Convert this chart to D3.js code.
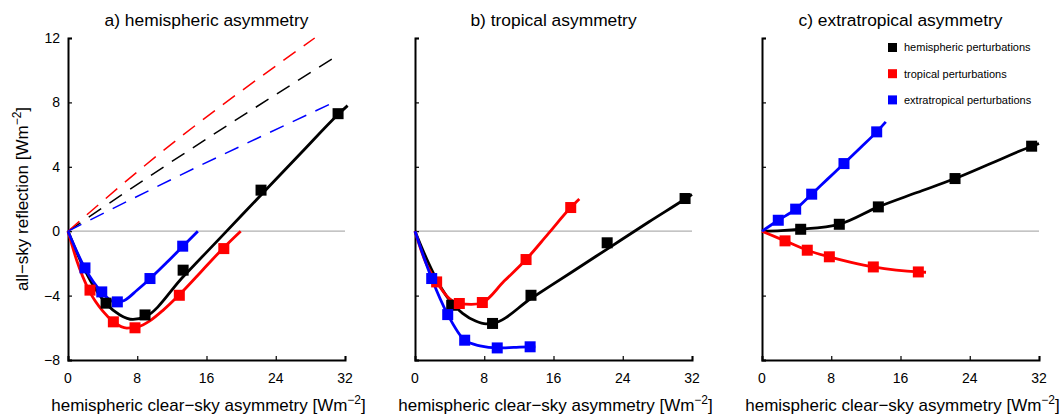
<!DOCTYPE HTML>
<html>
  <head>
    <style>
      body { margin: 0px; background: #fff; }
      text { font-family: "Liberation Sans", Arial, sans-serif; }
    </style>
  </head>
  <body>
    <script src="https://cdn.jsdelivr.net/npm/d3@7"></script>
    <script>

    // *** DATA ***

    var xTicks = [0, 8, 16, 24, 32];
    var yTicks = [-8, -4, 0, 4, 8, 12];
    var titles = ["a) hemispheric asymmetry", "b) tropical asymmetry", "c) extratropical asymmetry"];
    var seriesNames = ["hemispheric perturbations", "tropical perturbations", "extratropical perturbations"];
    var seriesColors = ["#000000", "#ff0000", "#0000ff"];

    // panel a - markers and fitted curves
    var aBlackPts = [[4.4, -4.47], [8.9, -5.2], [13.3, -2.42], [22.3, 2.55], [31.2, 7.3]];
    var aRedPts   = [[2.54, -3.66], [5.24, -5.63], [7.74, -6.0], [12.86, -3.98], [18.0, -1.08]];
    var aBluePts  = [[1.96, -2.28], [3.9, -3.77], [5.7, -4.39], [9.47, -2.94], [13.25, -0.93]];
    var aBlackFit = [[0, 0], [1.5, -1.9], [3, -3.45], [4.5, -4.55], [6, -5.2], [7.5, -5.48], [8.9, -5.32],
                     [13.3, -2.83], [18, -0.18], [22.3, 2.25], [27, 4.9], [31.2, 7.25], [32.3, 7.8]];
    var aRedFit   = [[0, 0], [1, -1.8], [2.5, -3.75], [4, -4.95], [5.3, -5.65], [6.8, -6.02], [8, -5.95],
                     [9.5, -5.55], [11, -4.9], [12.86, -3.95], [15.4, -2.5], [17.9, -1.07], [19.95, 0]];
    var aBlueFit  = [[0, 0], [1.96, -2.3], [3.9, -3.8], [5.5, -4.42], [6.5, -4.3], [8, -3.65], [9.47, -2.95],
                     [11.4, -1.95], [13.25, -0.95], [15.0, 0]];
    // panel a - dashed reference lines
    var aBlackDash = [[0, 0], [9.3, 3.37], [30.5, 10.7]];
    var aRedDash   = [[0, 0], [8.7, 4.0], [28.5, 12.0]];
    var aBlueDash  = [[0, 0], [10.2, 2.75], [31.1, 8.1]];

    // panel b
    var bBlackPts = [[4.24, -4.6], [8.96, -5.73], [13.4, -3.98], [22.2, -0.72], [31.2, 2.03]];
    var bRedPts   = [[2.5, -3.15], [5.12, -4.49], [7.78, -4.43], [12.83, -1.76], [17.99, 1.47]];
    var bBluePts  = [[1.93, -2.94], [3.78, -5.18], [5.74, -6.77], [9.5, -7.25], [13.3, -7.18]];
    var bBlackFit = [[0, 0], [1.5, -1.9], [3, -3.5], [4.3, -4.5], [5.5, -5.1], [7, -5.58], [8.2, -5.75], [9, -5.72],
                     [13.4, -4.18], [18, -2.58], [22.2, -1.11], [27, 0.57], [31.2, 2.0], [32, 2.28]];
    var bRedFit   = [[0, 0], [1.2, -1.9], [2.5, -3.15], [4, -4.2], [5.1, -4.5], [6.5, -4.55], [7.78, -4.43],
                     [10.3, -3.1], [12.83, -1.76], [15.4, -0.15], [17.99, 1.47], [18.98, 2.0]];
    var bBlueFit  = [[0, 0], [1.93, -2.94], [3.78, -5.18], [5.74, -6.77], [7.5, -7.12], [9.5, -7.25],
                     [11.4, -7.22], [13.3, -7.18], [13.9, -7.18]];

    // panel c
    var cBlackPts = [[4.47, 0.12], [8.93, 0.43], [13.44, 1.51], [22.3, 3.27], [31.15, 5.28]];
    var cRedPts   = [[2.66, -0.6], [5.23, -1.18], [7.78, -1.59], [12.86, -2.22], [18.06, -2.53]];
    var cBluePts  = [[1.88, 0.68], [3.89, 1.37], [5.74, 2.3], [9.47, 4.2], [13.25, 6.17]];
    var cBlackFit = [[0, 0], [2.2, 0.04], [4.47, 0.12], [8.93, 0.43], [13.44, 1.51], [17.9, 2.4], [22.3, 3.27],
                     [26.7, 4.27], [31.15, 5.28], [32, 5.45]];
    var cRedFit   = [[0, 0], [2.66, -0.6], [5.23, -1.18], [7.78, -1.59], [10.3, -1.93], [12.86, -2.22],
                     [15.5, -2.42], [18.06, -2.53], [18.95, -2.55]];
    var cBlueFit  = [[0, 0], [1.88, 0.68], [3.89, 1.37], [5.74, 2.3], [7.6, 3.25], [9.47, 4.2], [11.4, 5.2],
                     [13.25, 6.17], [14.3, 6.79]];

    var panels = [
      {left: 68,  pts: [aBlackPts, aRedPts, aBluePts], fit: [aBlackFit, aRedFit, aBlueFit], dash: [aBlackDash, aRedDash, aBlueDash], yLabels: true},
      {left: 415, pts: [bBlackPts, bRedPts, bBluePts], fit: [bBlackFit, bRedFit, bBlueFit], dash: [], yLabels: false},
      {left: 762, pts: [cBlackPts, cRedPts, cBluePts], fit: [cBlackFit, cRedFit, cBlueFit], dash: [], yLabels: false, legend: true}
    ];

    // *** DRAW ***

    var W = 1063, H = 415;
    var pw = 277, plotTop = 38, plotBottom = 360;

    var svg = d3.select("body").append("svg")
      .attr("width", W)
      .attr("height", H);

    var y = d3.scaleLinear().domain([-8, 12]).range([plotBottom, plotTop]);

    panels.forEach(function(p, i){
      var x = d3.scaleLinear().domain([0, 32]).range([p.left, p.left + pw]);
      var g = svg.append("g");

      // zero line
      g.append("line")
        .attr("x1", x(0)).attr("x2", x(32))
        .attr("y1", y(0)).attr("y2", y(0))
        .style("stroke", "#b0b0b0").style("stroke-width", 1.2);

      // axes (ticks pointing inward)
      var xAxis = g.append("g")
        .attr("transform", "translate(0," + plotBottom + ")")
        .call(d3.axisTop(x).tickValues(xTicks).tickSize(4).tickSizeOuter(4).tickFormat(""));
      xAxis.select(".domain").style("stroke-width", 2);
      xAxis.selectAll(".tick line").style("stroke-width", 1.2);

      var yAxis = g.append("g")
        .attr("transform", "translate(" + p.left + ",0)")
        .call(d3.axisRight(y).tickValues(yTicks).tickSize(4).tickSizeOuter(4).tickFormat(""));
      yAxis.select(".domain").style("stroke-width", 2);
      yAxis.selectAll(".tick line").style("stroke-width", 1.2);

      // tick labels
      g.selectAll(".xl").data(xTicks).enter().append("text")
        .attr("x", function(d){ return x(d); })
        .attr("y", 383)
        .attr("text-anchor", "middle")
        .style("font-size", "14px")
        .text(function(d){ return String(d).replace("-", "\u2212"); });

      if(p.yLabels){
        g.selectAll(".yl").data(yTicks).enter().append("text")
          .attr("x", p.left - 8)
          .attr("y", function(d){ return y(d); })
          .attr("dy", ".35em")
          .attr("text-anchor", "end")
          .style("font-size", "14px")
          .text(function(d){ return String(d).replace("-", "\u2212"); });
      }

      // title
      g.append("text")
        .attr("x", p.left + pw / 2)
        .attr("y", 26)
        .attr("text-anchor", "middle")
        .style("font-size", "17.4px")
        .text(titles[i]);

      // x-axis label
      var xl = g.append("text")
        .attr("x", p.left + pw / 2 + 2)
        .attr("y", 411)
        .attr("text-anchor", "middle")
        .style("font-size", "17px");
      xl.append("tspan").text("hemispheric clear\u2212sky asymmetry [Wm");
      xl.append("tspan").attr("dy", -7).style("font-size", "12px").text("\u22122");
      xl.append("tspan").attr("dy", 7).text("]");

      // dashed lines
      var line = d3.line()
        .x(function(d){ return x(d[0]); })
        .y(function(d){ return y(d[1]); })
        .curve(d3.curveMonotoneX);

      p.dash.forEach(function(d, k){
        g.append("path")
          .datum(d)
          .attr("d", line)
          .style("fill", "none")
          .style("stroke", seriesColors[k])
          .style("stroke-width", 1.5)
          .style("stroke-dasharray", "15,10");
      });

      // fitted curves and markers
      [0, 1, 2].forEach(function(k){
        g.append("path")
          .datum(p.fit[k])
          .attr("d", line)
          .style("fill", "none")
          .style("stroke", seriesColors[k])
          .style("stroke-width", 2.8);
      });
      [0, 1, 2].forEach(function(k){
        g.selectAll(".m" + k).data(p.pts[k]).enter().append("rect")
          .attr("x", function(d){ return x(d[0]) - 5.5; })
          .attr("y", function(d){ return y(d[1]) - 5.5; })
          .attr("width", 11)
          .attr("height", 11)
          .style("fill", seriesColors[k]);
      });

      // legend
      if(p.legend){
        seriesNames.forEach(function(name, k){
          g.append("rect")
            .attr("x", 888).attr("y", 43 + k * 26.2)
            .attr("width", 9).attr("height", 9)
            .style("fill", seriesColors[k]);
          g.append("text")
            .attr("x", 904).attr("y", 47.5 + k * 26.2)
            .attr("dy", ".35em")
            .style("font-size", "11px")
            .text(name);
        });
      }
    });

    // y-axis label
    var yl = svg.append("text")
      .attr("transform", "translate(28," + 199 + ") rotate(-90)")
      .attr("text-anchor", "middle")
      .style("font-size", "17px");
    yl.append("tspan").text("all\u2212sky reflection [Wm");
    yl.append("tspan").attr("dy", -7).style("font-size", "12px").text("\u22122");
    yl.append("tspan").attr("dy", 7).text("]");

    </script>
  </body>
</html>
